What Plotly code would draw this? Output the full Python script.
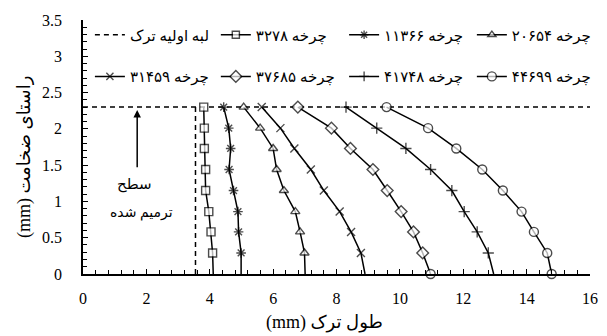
import plotly.graph_objects as go

# Depth positions through the thickness (mm)
depth = [2.3, 2.01, 1.73, 1.44, 1.15, 0.86, 0.58, 0.29, 0.0]

# Crack length (mm) at each depth, per number of cycles
len_3278 = [3.81, 3.83, 3.83, 3.87, 3.87, 3.97, 4.04, 4.09, 4.11]
len_11366 = [4.44, 4.60, 4.66, 4.61, 4.75, 4.89, 4.91, 4.99, 4.99]
len_20654 = [5.07, 5.59, 6.00, 6.11, 6.34, 6.70, 6.85, 6.99, 7.01]
len_31459 = [5.64, 6.23, 6.67, 7.19, 7.60, 8.10, 8.46, 8.77, 8.90]
len_37685 = [6.78, 7.84, 8.44, 9.15, 9.60, 10.04, 10.43, 10.72, 10.97]
len_41748 = [8.30, 9.27, 10.19, 10.97, 11.64, 12.03, 12.44, 12.79, 12.96]
len_44699 = [9.58, 10.89, 11.78, 12.60, 13.25, 13.84, 14.23, 14.65, 14.79]

# Initial crack front (surface line at the repaired layer and the notch edge)
edge_x = [0, 16, None, 3.55, 3.55]
edge_y = [2.3, 2.3, None, 2.3, 0]

series_names = [
    "چرخه ۳۲۷۸", "چرخه ۱۱۳۶۶", "چرخه ۲۰۶۵۴", "چرخه ۳۱۴۵۹",
    "چرخه ۳۷۶۸۵", "چرخه ۴۱۷۴۸", "چرخه ۴۴۶۹۹",
]
edge_name = "لبه اولیه ترک"

FONT = "Liberation Serif, Times New Roman, DejaVu Sans, serif"
BLACK = "#000000"

fig = go.Figure()

fig.add_trace(go.Scatter(
    x=edge_x, y=edge_y, mode="lines", name=edge_name,
    line=dict(color=BLACK, width=1.5, dash="5px,4px"),
    legend="legend",
))


def add_series(xs, name, symbol, size, last_visible, legend,
               filled=True, last_symbol=None):
    sizes = [size] * (len(xs) - 1) + [size if last_visible else 0]
    symbols = [symbol] * (len(xs) - 1) + [last_symbol or symbol]
    fig.add_trace(go.Scatter(
        x=xs, y=depth, mode="lines+markers", name=name,
        line=dict(color=BLACK, width=1.5),
        marker=dict(symbol=symbols, size=sizes,
                    color="white" if filled else BLACK,
                    line=dict(color=BLACK, width=1.4)),
        cliponaxis=False, legend=legend,
    ))


add_series(len_3278, series_names[0], "square", 8, False, "legend2")
add_series(len_11366, series_names[1], "asterisk-open", 8, False, "legend3", filled=False)
add_series(len_20654, series_names[2], "triangle-up", 8, False, "legend4")
add_series(len_31459, series_names[3], "x-thin-open", 8, False, "legend5", filled=False)
add_series(len_37685, series_names[4], "diamond", 9, True, "legend6", last_symbol="circle")
add_series(len_41748, series_names[5], "cross-thin-open", 8, False, "legend7", filled=False)
add_series(len_44699, series_names[6], "circle", 9, True, "legend8")

legend_common = dict(
    orientation="h", xanchor="left", yanchor="middle",
    font=dict(family=FONT, size=15, color=BLACK),
    bgcolor="rgba(0,0,0,0)",
    itemclick=False, itemdoubleclick=False,
)

# Four legend columns, two rows
col_x = [0.0136, 0.262, 0.515, 0.767]
row_y = [0.941, 0.777]
legend_layout = {}
for i in range(8):
    key = "legend" if i == 0 else f"legend{i + 1}"
    legend_layout[key] = dict(x=col_x[i % 4], y=row_y[i // 4], **legend_common)

fig.update_layout(
    width=607, height=336,
    margin=dict(l=83, r=9, t=20, b=62),
    paper_bgcolor="white", plot_bgcolor="white",
    font=dict(family=FONT, size=16, color=BLACK),
    showlegend=True,
    **legend_layout,
    xaxis=dict(
        range=[0, 16], dtick=2, tick0=0,
        showline=True, linecolor=BLACK, linewidth=1.5,
        ticks="inside", ticklen=5, tickcolor=BLACK, tickwidth=1.2,
        minor=dict(dtick=0.4, ticks="inside", ticklen=4, tickcolor=BLACK, tickwidth=1),
        showgrid=False, zeroline=False,
        tickfont=dict(family=FONT, size=16, color=BLACK),
        ticklabelstandoff=9,
    ),
    yaxis=dict(
        range=[0, 3.5], dtick=0.5, tick0=0,
        showline=True, linecolor=BLACK, linewidth=1.5,
        ticks="inside", ticklen=5, tickcolor=BLACK, tickwidth=1.2,
        minor=dict(dtick=0.1, ticks="inside", ticklen=4, tickcolor=BLACK, tickwidth=1),
        showgrid=False, zeroline=False,
        tickfont=dict(family=FONT, size=16, color=BLACK),
        ticklabelstandoff=16,
    ),
)

# Axis titles
fig.add_annotation(
    text="(mm) طول ترک", xref="paper", yref="paper",
    x=0.476, y=-0.19, xanchor="center", yanchor="middle", showarrow=False,
    font=dict(family=FONT, size=18, color=BLACK),
)
fig.add_annotation(
    text="(mm) راستای ضخامت", xref="paper", yref="paper",
    x=-0.1165, y=0.46, xanchor="center", yanchor="middle", showarrow=False,
    textangle=-90, font=dict(family=FONT, size=18, color=BLACK),
)

# Repaired surface label with arrow
fig.add_annotation(
    x=1.71, y=2.26, ax=1.71, ay=1.45, xref="x", yref="y", axref="x", ayref="y",
    showarrow=True, arrowhead=2, arrowsize=1, arrowwidth=1.5, arrowcolor=BLACK,
    text="",
)
fig.add_annotation(
    text="سطح", x=1.63, y=1.23, xref="x", yref="y", showarrow=False,
    font=dict(family=FONT, size=15, color=BLACK),
)
fig.add_annotation(
    text="ترمیم شده", x=1.86, y=0.84, xref="x", yref="y", showarrow=False,
    font=dict(family=FONT, size=14, color=BLACK),
)

fig.write_html("out.html")
